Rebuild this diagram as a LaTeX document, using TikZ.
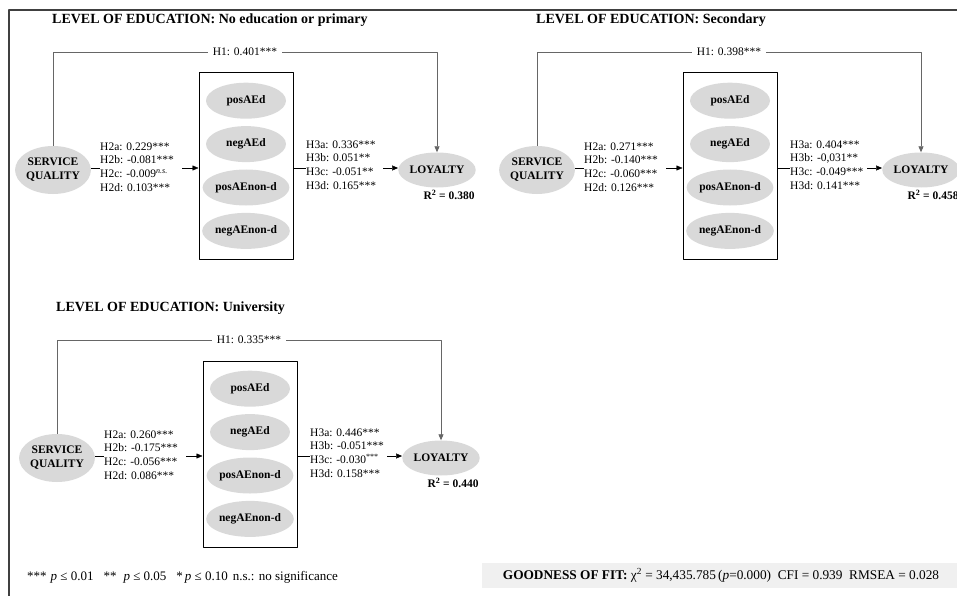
\documentclass[tikz,border=0pt]{standalone}
\usepackage{fontspec}
\setmainfont{Liberation Serif}
\usetikzlibrary{positioning,arrows.meta,shapes.geometric}
\begin{document}
\begin{tikzpicture}[x=1pt,y=-1pt,line join=round,>={Triangle[length=6pt,width=5pt]},
	latent/.style={ellipse,fill=black!15,inner sep=0pt,minimum width=80pt,minimum height=36pt,
		align=center,font=\fontsize{11.5}{14}\selectfont\bfseries},
	coef/.style={anchor=west,inner sep=0pt,align=left,font=\fontsize{11.5}{13.7}\selectfont},
	paneltitle/.style={anchor=west,inner sep=0pt,font=\fontsize{14}{16}\selectfont\bfseries},
	hpath/.style={draw=black!60,line width=0.8pt}]
	\useasboundingbox (0,0) rectangle (957,596);
	% one panel: name, shift, level, H1, H2 block, H3 block, R2
	\def\edupanel#1#2#3#4#5#6#7{%
		\begin{scope}[shift={#2}]
			\node[paneltitle] (#1-t) at (52,20) {LEVEL OF EDUCATION: #3};
			\node[latent,minimum width=74pt,minimum height=48pt] (#1-sq) at (53,170) {SERVICE\\QUALITY};
			\node[latent,minimum width=72pt,minimum height=35pt] (#1-loy) at (437,170) {LOYALTY};
			\node[draw,line width=1pt,minimum width=94pt,minimum height=186pt,inner sep=0pt] (#1-box) at (246,166) {};
			\node[latent,below=10pt of #1-box.north] (#1-e1) {posAEd};
			\node[latent,below=7pt of #1-e1] (#1-e2) {negAEd};
			\node[latent,below=7pt of #1-e2] (#1-e3) {posAEnon-d};
			\node[latent,below=7pt of #1-e3] (#1-e4) {negAEnon-d};
			\node[coef] (#1-h2) at (100,167) {#5};
			\node[coef] (#1-h3) at (306,165) {#6};
			\coordinate (#1-a2) at (182,168);
			\coordinate (#1-a3) at (383,168);
			\node[fill=white,inner xsep=5pt,inner ysep=1pt,font=\fontsize{11.5}{13}\selectfont] (#1-h1) at (245,52) {H1: #4};
			\draw[hpath] (#1-sq.north) |- (#1-h1.west);
			\draw[hpath,->] (#1-h1.east) -| (#1-loy.north);
			\draw (#1-sq.east |- #1-a2) -- (#1-h2.west |- #1-a2);
			\draw[->] (#1-a2) -- (#1-a2 -| #1-box.west);
			\draw (#1-box.east |- #1-a3) -- (#1-h3.west |- #1-a3);
			\draw[->] (#1-a3) -- (#1-a3 -| #1-loy.west);
			\node[below=1pt of #1-loy.south,xshift=12pt,inner sep=1pt,font=\fontsize{11.5}{13}\selectfont\bfseries] (#1-r2) {R\textsuperscript{2} = #7};
		\end{scope}}
	\draw[black!75,line width=1.5pt] (9,600) |- (960,10);
	\edupanel{p}{(0,0)}{No education or primary}{0.401***}
		{H2a: 0.229***\\H2b: -0.081***\\H2c: -0.009\textsuperscript{\textit{n.s.}}\\H2d: 0.103***}
		{H3a: 0.336***\\H3b: 0.051**\\H3c: -0.051**\\H3d: 0.165***}{0.380}
	\edupanel{s}{(484,0)}{Secondary}{0.398***}
		{H2a: 0.271***\\H2b: -0.140***\\H2c: -0.060***\\H2d: 0.126***}
		{H3a: 0.404***\\H3b: -0,031**\\H3c: -0.049***\\H3d: 0.141***}{0.458}
	\edupanel{u}{(4,288)}{University}{0.335***}
		{H2a: 0.260***\\H2b: -0.175***\\H2c: -0.056***\\H2d: 0.086***}
		{H3a: 0.446***\\H3b: -0.051***\\H3c: -0.030\textsuperscript{***}\\H3d: 0.158***}{0.440}
	\node[anchor=west,inner sep=0pt,font=\fontsize{13}{15}\selectfont] (note) at (27,577)
		{***\hspace{4pt}\textit{p} ≤ 0.01\hspace{10pt}**\hspace{7pt}\textit{p} ≤ 0.05\hspace{10pt}*\hspace{2pt}\textit{p} ≤ 0.10\hspace{5pt}n.s.: no significance};
	\node[fill=black!6,inner xsep=21pt,inner ysep=0pt,minimum height=25pt,font=\fontsize{13.3}{15}\selectfont] (gof) at (721,575.5)
		{\textbf{GOODNESS OF FIT:} χ\textsuperscript{2} = 34,435.785\,(\textit{p}=0.000) \ CFI = 0.939 \ RMSEA = 0.028};
\end{tikzpicture}
\end{document}
